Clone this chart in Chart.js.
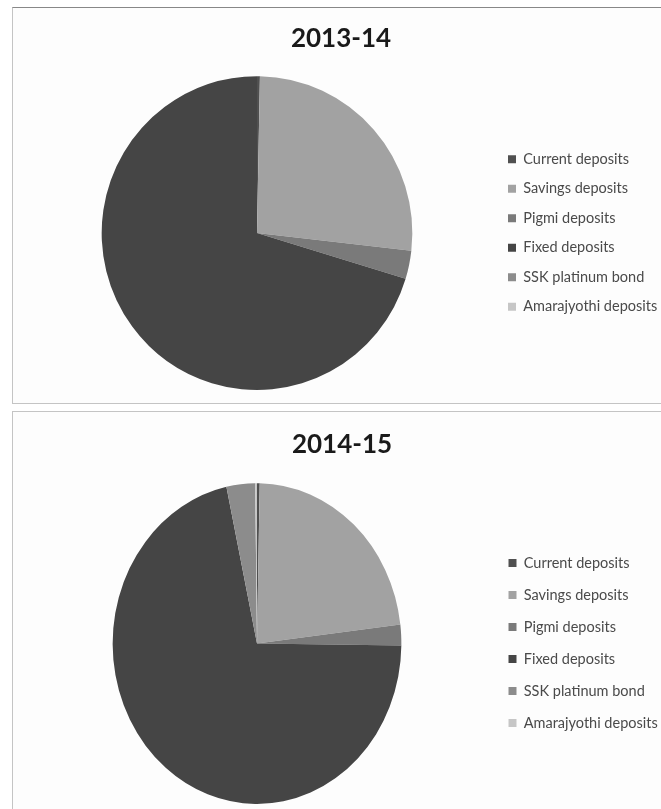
<!DOCTYPE html>
<html lang="en">
<head>
    <meta charset="UTF-8">
    <title>Deposits 2013-14 / 2014-15</title>
    <script src="https://cdn.jsdelivr.net/npm/chart.js"></script>
    <style>
        html, body {
            margin: 0;
            padding: 0;
            background: #ffffff;
            width: 661px;
            height: 809px;
            overflow: hidden;
        }
        .panel {
            position: absolute;
            left: 12px;
            width: 700px;
            border: 1px solid #c4c4c4;
            background: #fdfdfd;
        }
        #panel1 { top: 7px; height: 395px; border-top-color: #888888; }
        #panel2 { top: 411px; height: 420px; }
        canvas { display: block; }
    </style>
</head>
<body>
    <div class="panel" id="panel1"><canvas id="chart1" width="648" height="394"></canvas></div>
    <div class="panel" id="panel2"><canvas id="chart2" width="648" height="397"></canvas></div>

    <script>
        // Categories and shares (%)
        const categories = ['Current deposits', 'Savings deposits', 'Pigmi deposits',
                            'Fixed deposits', 'SSK platinum bond', 'Amarajyothi deposits'];
        const shares2013 = [0.3, 26.5, 2.9, 70.3, 0, 0];
        const shares2014 = [0.3, 22.8, 2.1, 71.4, 3.2, 0.2];
        const greys = ['#505050', '#a2a2a2', '#7a7a7a', '#454545', '#8c8c8c', '#c6c6c6'];

        const fontFamily = 'Lato, "Open Sans", "DejaVu Sans", sans-serif';

        // squash the pie horizontally (the second one is drawn as an ellipse)
        const squashPlugin = {
            id: 'squash',
            beforeDatasetsDraw(chart, args, opts) {
                const a = chart.chartArea;
                const cx = (a.left + a.right) / 2, cy = (a.top + a.bottom) / 2;
                chart.ctx.save();
                chart.ctx.translate(cx, cy);
                chart.ctx.scale(opts.sx || 1, 1);
                chart.ctx.translate(-cx, -cy);
            },
            afterDatasetsDraw(chart) {
                chart.ctx.restore();
            }
        };

        function makePie(id, title, values, cfg) {
            return new Chart(document.getElementById(id), {
                type: 'pie',
                data: {
                    labels: categories,
                    datasets: [{
                        data: values,
                        backgroundColor: greys,
                        borderWidth: 0
                    }]
                },
                options: {
                    responsive: false,
                    animation: false,
                    layout: { padding: { left: cfg.padLeft, right: 0, top: 0, bottom: cfg.padBottom } },
                    plugins: {
                        squash: { sx: cfg.sx },
                        tooltip: { enabled: false },
                        title: {
                            display: true,
                            text: title,
                            color: '#1a1a1a',
                            font: { family: fontFamily, size: 26, weight: 'bold', lineHeight: 1.2 },
                            padding: { top: cfg.titleTop, bottom: cfg.titleBottom }
                        },
                        legend: {
                            position: 'right',
                            maxWidth: cfg.legendWidth,
                            // empty legend title, only used to push the items down
                            title: {
                                display: true,
                                text: '',
                                font: { size: 10, lineHeight: 1.2 },
                                padding: { top: cfg.legendShift, bottom: cfg.legendShift }
                            },
                            labels: {
                                boxWidth: 8,
                                boxHeight: 8,
                                padding: cfg.legendGap,
                                color: '#4a4a4a',
                                font: { family: fontFamily, size: 14.5 }
                            }
                        }
                    }
                },
                plugins: [squashPlugin]
            });
        }

        makePie('chart1', '2013-14', shares2013,
            { padLeft: 8, padBottom: 12, titleTop: 15, titleBottom: 22, legendWidth: 168, legendGap: 15,
              legendShift: 28, sx: 0.99 });
        makePie('chart2', '2014-15', shares2014,
            { padLeft: 10, padBottom: 5, titleTop: 17, titleBottom: 23, legendWidth: 170, legendGap: 17.5,
              legendShift: 29, sx: 0.9 });
    </script>
</body>
</html>
